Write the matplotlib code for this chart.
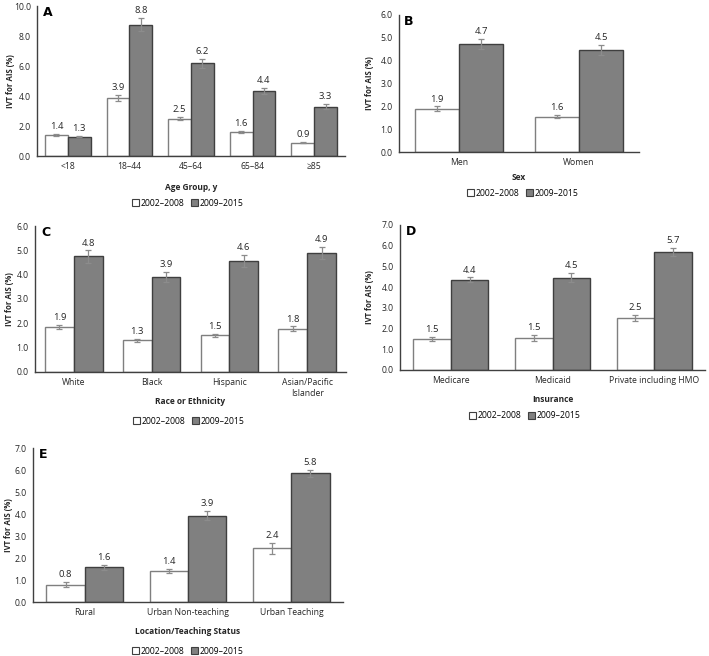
import matplotlib
matplotlib.use("Agg")
import matplotlib.pyplot as plt
from matplotlib.patches import Patch
import numpy as np

plt.rcParams['font.family'] = ['Open Sans', 'DejaVu Sans']

series_names = ["2002\u20132008", "2009\u20132015"]

# Panel A
a_cats = ["<18", "18\u201344", "45\u201364", "65\u201384", "\u226585"]
a_early = [1.4, 3.85, 2.5, 1.6, 0.9]
a_late = [1.3, 8.75, 6.2, 4.35, 3.3]
a_early_err = [0.05, 0.2, 0.1, 0.07, 0.03]
a_late_err = [0.04, 0.45, 0.3, 0.2, 0.15]
a_early_lbl = ["1.4", "3.9", "2.5", "1.6", "0.9"]
a_late_lbl = ["1.3", "8.8", "6.2", "4.4", "3.3"]

# Panel B
b_cats = ["Men", "Women"]
b_early = [1.9, 1.55]
b_late = [4.72, 4.47]
b_early_err = [0.1, 0.07]
b_late_err = [0.22, 0.22]
b_early_lbl = ["1.9", "1.6"]
b_late_lbl = ["4.7", "4.5"]

# Panel C
c_cats = ["White", "Black", "Hispanic", "Asian/Pacific\nIslander"]
c_early = [1.85, 1.3, 1.5, 1.78]
c_late = [4.75, 3.9, 4.55, 4.9]
c_early_err = [0.1, 0.05, 0.07, 0.09]
c_late_err = [0.25, 0.2, 0.25, 0.25]
c_early_lbl = ["1.9", "1.3", "1.5", "1.8"]
c_late_lbl = ["4.8", "3.9", "4.6", "4.9"]

# Panel D
d_cats = ["Medicare", "Medicaid", "Private including HMO"]
d_early = [1.5, 1.55, 2.5]
d_late = [4.35, 4.45, 5.7]
d_early_err = [0.08, 0.15, 0.15]
d_late_err = [0.12, 0.22, 0.18]
d_early_lbl = ["1.5", "1.5", "2.5"]
d_late_lbl = ["4.4", "4.5", "5.7"]

# Panel E
e_cats = ["Rural", "Urban Non-teaching", "Urban Teaching"]
e_early = [0.78, 1.4, 2.45]
e_late = [1.57, 3.93, 5.85]
e_early_err = [0.12, 0.1, 0.25]
e_late_err = [0.12, 0.2, 0.17]
e_early_lbl = ["0.8", "1.4", "2.4"]
e_late_lbl = ["1.6", "3.9", "5.8"]

W, H = 709, 656
fig = plt.figure(figsize=(W / 100, H / 100), dpi=100)

GREY = "#808080"
EDGE_DARK = "#3f3f3f"
EDGE_LIGHT = "#7f7f7f"
AXC = "#404040"
TXT = "#262626"


def rect(l, t, r, b):
    return [l / W, 1 - b / H, (r - l) / W, (b - t) / H]


def panel(box, letter, cats, early, late, eerr, lerr, elbl, llbl,
          ymax, ystep, xlabel, xlabel_y, legend_xy, bw, ylab_x):
    ax = fig.add_axes(rect(*box))
    x = np.arange(len(cats))
    ax.bar(x - bw / 2, early, bw, color="white", edgecolor=EDGE_LIGHT,
           linewidth=1.0, zorder=2)
    ax.bar(x + bw / 2, late, bw, color=GREY, edgecolor=EDGE_DARK,
           linewidth=1.0, zorder=2)
    ax.errorbar(x - bw / 2, early, yerr=eerr, fmt="none", ecolor="#8c8c8c",
                elinewidth=0.9, capsize=2, capthick=0.9, zorder=3)
    ax.errorbar(x + bw / 2, late, yerr=lerr, fmt="none", ecolor="#8c8c8c",
                elinewidth=0.9, capsize=2, capthick=0.9, zorder=3)
    for xi, v, e, s in zip(x - bw / 2, early, eerr, elbl):
        ax.annotate(s, (xi, v + e), xytext=(0, 2), textcoords="offset points",
                    ha="center", va="bottom", fontsize=6.8, color=TXT)
    for xi, v, e, s in zip(x + bw / 2, late, lerr, llbl):
        ax.annotate(s, (xi, v + e), xytext=(0, 2), textcoords="offset points",
                    ha="center", va="bottom", fontsize=6.8, color=TXT)
    ax.set_xlim(-0.5, len(cats) - 0.5)
    ax.set_ylim(0, ymax)
    ticks = np.arange(0, ymax + 0.001, ystep)
    ax.set_yticks(ticks)
    ax.set_yticklabels([f"{t:.1f}" for t in ticks])
    ax.set_xticks(x)
    ax.set_xticklabels(cats)
    ax.tick_params(axis="both", length=0, labelsize=6.2, colors=TXT)
    ax.tick_params(axis="x", pad=4.5)
    ax.tick_params(axis="y", pad=4.5)
    for s in ["top", "right"]:
        ax.spines[s].set_visible(False)
    for s in ["left", "bottom"]:
        ax.spines[s].set_color(AXC)
        ax.spines[s].set_linewidth(1.0)
    l, t, r, b = box
    fig.text(ylab_x / W, 1 - ((t + b) / 2) / H, "IVT for AIS (%)",
             rotation=90, ha="center", va="center", fontsize=5.6,
             fontweight="bold", color=TXT)
    fig.text(((l + r) / 2) / W, 1 - xlabel_y / H, xlabel, ha="center",
             va="center", fontsize=6.0, fontweight="bold", color=TXT)
    ax.text(0.02, 1.0, letter, transform=ax.transAxes, fontsize=9,
            fontweight="bold", ha="left", va="top", family="DejaVu Sans")
    handles = [Patch(facecolor="white", edgecolor=EDGE_DARK, linewidth=0.8),
               Patch(facecolor=GREY, edgecolor=EDGE_DARK, linewidth=0.8)]
    fig.legend(handles, series_names, loc="center",
               bbox_to_anchor=(legend_xy[0] / W, 1 - legend_xy[1] / H),
               ncol=2, frameon=False, fontsize=6.2, handlelength=0.8,
               handleheight=0.8, handletextpad=0.2, columnspacing=0.8,
               borderaxespad=0, borderpad=0)
    return ax


panel((37, 6, 345, 156), "A", a_cats, a_early, a_late, a_early_err,
      a_late_err, a_early_lbl, a_late_lbl, 10, 2, "Age Group, y", 187,
      (188, 203), 0.37, 11)
panel((399, 15, 639, 152), "B", b_cats, b_early, b_late, b_early_err,
      b_late_err, b_early_lbl, b_late_lbl, 6, 1, "Sex", 177,
      (523, 193), 0.37, 370)
panel((35, 226, 346, 372), "C", c_cats, c_early, c_late, c_early_err,
      c_late_err, c_early_lbl, c_late_lbl, 6, 1, "Race or Ethnicity", 402,
      (189, 421), 0.37, 10)
panel((400, 225, 705, 370), "D", d_cats, d_early, d_late, d_early_err,
      d_late_err, d_early_lbl, d_late_lbl, 7, 1, "Insurance", 399,
      (525, 416), 0.37, 370)
panel((33, 448, 343, 602), "E", e_cats, e_early, e_late, e_early_err,
      e_late_err, e_early_lbl, e_late_lbl, 7, 1, "Location/Teaching Status",
      632, (188, 651), 0.37, 9)

fig.savefig("out.png", dpi=100)
